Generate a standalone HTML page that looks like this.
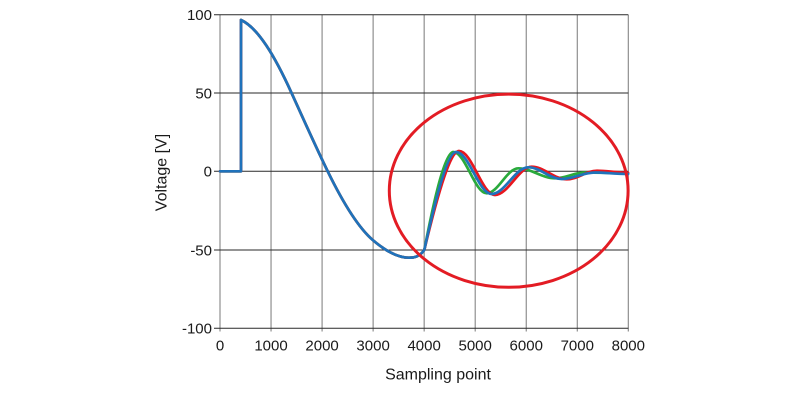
<!DOCTYPE html>
<html>
<head>
<meta charset="utf-8">
<style>
  html, body { margin: 0; padding: 0; background: #ffffff; }
  body { width: 800px; height: 400px; overflow: hidden; }
  svg { display: block; }
  text { font-family: "Liberation Sans", Arial, sans-serif; fill: #1a1a1a; }
</style>
</head>
<body>
<svg width="800" height="400" viewBox="0 0 800 400" xmlns="http://www.w3.org/2000/svg">
  <rect x="0" y="0" width="800" height="400" fill="#ffffff"/>

  <!-- vertical gridlines (gray), extend a little below as ticks -->
  <g stroke="#858585" stroke-width="1.1" fill="none">
    <line x1="220" y1="14.7" x2="220" y2="331.5"/>
    <line x1="271.04" y1="14.7" x2="271.04" y2="331.5"/>
    <line x1="322.08" y1="14.7" x2="322.08" y2="331.5"/>
    <line x1="373.12" y1="14.7" x2="373.12" y2="331.5"/>
    <line x1="424.16" y1="14.7" x2="424.16" y2="331.5"/>
    <line x1="475.2" y1="14.7" x2="475.2" y2="331.5"/>
    <line x1="526.24" y1="14.7" x2="526.24" y2="331.5"/>
    <line x1="577.28" y1="14.7" x2="577.28" y2="331.5"/>
    <line x1="628.3" y1="14.7" x2="628.3" y2="331.5"/>
  </g>

  <!-- horizontal gridlines (dark) with left ticks -->
  <g stroke="#2a2a2a" stroke-width="1" fill="none">
    <line x1="214" y1="14.7" x2="628.3" y2="14.7"/>
    <line x1="214" y1="93" x2="628.3" y2="93"/>
    <line x1="214" y1="171.3" x2="628.3" y2="171.3"/>
    <line x1="214" y1="250" x2="628.3" y2="250"/>
    <line x1="214" y1="328.3" x2="628.3" y2="328.3"/>
  </g>

  <!-- y tick labels -->
  <g font-size="15" text-anchor="end">
    <text x="212" y="20">100</text>
    <text x="212" y="98.3">50</text>
    <text x="212" y="176.6">0</text>
    <text x="212" y="255.3">-50</text>
    <text x="212" y="333.6">-100</text>
  </g>

  <!-- x tick labels -->
  <g font-size="15" text-anchor="middle">
    <text x="220" y="350.7">0</text>
    <text x="271.04" y="350.7">1000</text>
    <text x="322.08" y="350.7">2000</text>
    <text x="373.12" y="350.7">3000</text>
    <text x="424.16" y="350.7">4000</text>
    <text x="475.2" y="350.7">5000</text>
    <text x="526.24" y="350.7">6000</text>
    <text x="577.28" y="350.7">7000</text>
    <text x="628.3" y="350.7">8000</text>
  </g>

  <!-- axis titles -->
  <text x="438" y="379.3" font-size="16" text-anchor="middle">Sampling point</text>
  <text transform="translate(166.5,172.5) rotate(-90)" font-size="16" text-anchor="middle">Voltage [V]</text>

  <g fill="none" stroke-width="2.7" stroke-linejoin="round" stroke-linecap="round">
    <!-- green -->
    <path stroke="#2aaa3c" d="M220,171.3 L241,171.3 L241,20
      C257.9,27.6 274.8,56.1 291.7,93.3
      C303.7,119.7 315.7,146.7 327.7,171.3
      C342.9,202.5 358.1,227.6 373.3,240.5
      C385.2,250.6 397.1,257.7 409,257.7
      C414,257.7 419.2,257.1 424.3,250
      C429,226 443,152 453.3,152
      C465.3,152 474.7,193.3 486.7,193.3
      C498,193.3 507,168.3 518.3,168.3
      C531,168.3 542,178.3 555,178.3
      C566,178.3 574,172.5 585,172.5
      C600,172.5 612,173 628,173.3"/>
    <!-- red -->
    <path stroke="#e8161e" d="M220,171.3 L241,171.3 L241,20
      C257.9,27.6 274.8,56.1 291.7,93.3
      C303.7,119.7 315.7,146.7 327.7,171.3
      C342.9,202.5 358.1,227.6 373.3,240.5
      C385.2,250.6 397.1,257.7 409,257.7
      C414,257.7 419.2,257.1 424.3,250
      C431,222 448,151 459,151
      C472,151 482,195 495,195
      C508,195 519,166.7 531.7,166.7
      C544,166.7 554,179.3 566.7,179.3
      C578,179.3 586,170.7 597,170.7
      C607,170.7 615,172.5 628,172.7"/>
    <!-- blue -->
    <path stroke="#1f72bb" d="M220,171.3 L241,171.3 L241,20
      C257.9,27.6 274.8,56.1 291.7,93.3
      C303.7,119.7 315.7,146.7 327.7,171.3
      C342.9,202.5 358.1,227.6 373.3,240.5
      C385.2,250.6 397.1,257.7 409,257.7
      C414,257.7 419.2,257.1 424.3,250
      C430,224 446,152 456,152
      C469,152 478.7,194 491.7,194
      C504.7,194 515.3,167.3 528.3,167.3
      C540.3,167.3 549.7,179 561.7,179
      C573.7,179 583,172.5 595,172.5
      C605,172.5 615,174 628,174"/>
  </g>

  <!-- red highlight ellipse -->
  <ellipse cx="508.7" cy="190.7" rx="119.4" ry="96.6" fill="none" stroke="#e31c24" stroke-width="3"/>
</svg>
</body>
</html>
